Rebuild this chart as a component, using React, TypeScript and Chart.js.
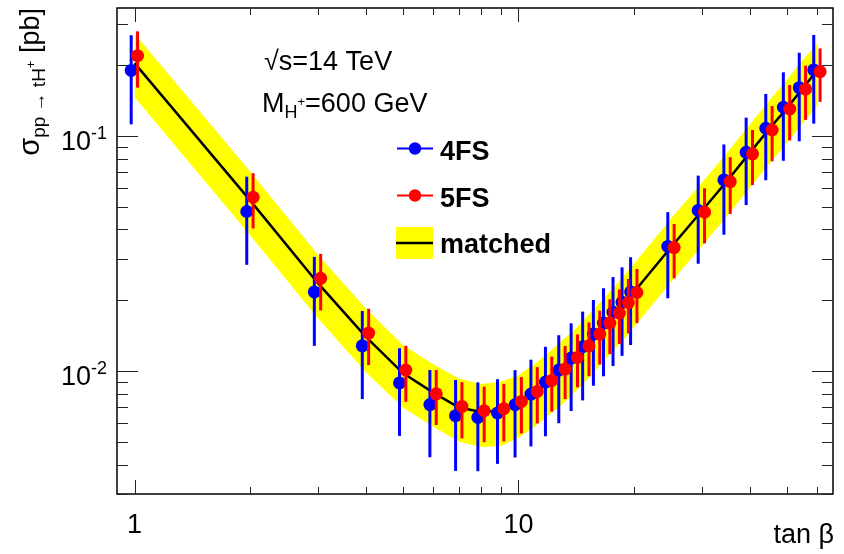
import React, { useEffect, useRef } from "react";
import { Chart, registerables } from "chart.js";

Chart.register(...registerables);

// ---------------- data ----------------
const tanBeta = [1, 2, 3, 4, 5, 6, 7, 8, 9, 10, 11, 12, 13, 14, 15, 16, 17, 18, 19, 20, 25, 30, 35, 40, 45, 50, 55, 60];

const sigma4FS = [0.190, 0.0477, 0.0217, 0.0128, 0.0089, 0.0072, 0.00646, 0.00635, 0.00663, 0.00719, 0.00798, 0.00898, 0.0101, 0.01136, 0.0127, 0.01436, 0.0160, 0.0178, 0.0196, 0.0217, 0.0339, 0.0482, 0.0650, 0.0852, 0.1078, 0.1324, 0.1604, 0.1908];
const err4FS = [0.078, 0.0194, 0.0089, 0.0052, 0.0036, 0.0029, 0.0027, 0.0026, 0.0026, 0.0029, 0.0032, 0.0037, 0.0041, 0.0046, 0.0052, 0.0057, 0.0065, 0.0073, 0.0080, 0.0088, 0.0135, 0.0196, 0.0270, 0.0344, 0.0430, 0.0540, 0.0655, 0.0780];

const sigma5FS = [0.2195, 0.0549, 0.0248, 0.0145, 0.0101, 0.0080, 0.00707, 0.00678, 0.00692, 0.00743, 0.00819, 0.00912, 0.0102, 0.01142, 0.0128, 0.01436, 0.0160, 0.01764, 0.01956, 0.02158, 0.0335, 0.0474, 0.0639, 0.0839, 0.1060, 0.1302, 0.1580, 0.1876];
const err5FS = [0.059, 0.0145, 0.0067, 0.0039, 0.0027, 0.0021, 0.0019, 0.0018, 0.0019, 0.0020, 0.0022, 0.0024, 0.0026, 0.0029, 0.0033, 0.0037, 0.0042, 0.0046, 0.0051, 0.0056, 0.0087, 0.0125, 0.0173, 0.0221, 0.0280, 0.0345, 0.0410, 0.0480];

const sigmaMatched = [0.204, 0.0532, 0.0237, 0.0140, 0.0098, 0.0081, 0.0070, 0.0067, 0.0068, 0.0073, 0.0081, 0.0091, 0.0102, 0.0114, 0.0128, 0.0143, 0.0160, 0.0177, 0.0196, 0.0217, 0.0337, 0.0478, 0.0645, 0.0845, 0.107, 0.131, 0.159, 0.190];
const bandUpper = [0.272, 0.0705, 0.0313, 0.0185, 0.0129, 0.0107, 0.0093, 0.0088, 0.0090, 0.0096, 0.0107, 0.0120, 0.0135, 0.0150, 0.0169, 0.0189, 0.0211, 0.0234, 0.0259, 0.0286, 0.0445, 0.0631, 0.0851, 0.1115, 0.141, 0.173, 0.210, 0.247];
const bandLower = [0.146, 0.0378, 0.0168, 0.0099, 0.0070, 0.0058, 0.0050, 0.00475, 0.0048, 0.0052, 0.0058, 0.0065, 0.0072, 0.0081, 0.0091, 0.0102, 0.0114, 0.0126, 0.0139, 0.0154, 0.0239, 0.0339, 0.0458, 0.0600, 0.0760, 0.0930, 0.1130, 0.1340];

const xMajorTicks = [1, 10];
const xMinorTicks = [2, 3, 4, 5, 6, 7, 8, 9, 20, 30, 40, 50, 60];
const yMajorTicks = [0.01, 0.1];
const yMinorTicks = [0.003, 0.004, 0.005, 0.006, 0.007, 0.008, 0.009, 0.02, 0.03, 0.04, 0.05, 0.06, 0.07, 0.08, 0.09, 0.2, 0.3];
const xTickLabelValues = [1, 10];
const xTickLabelTexts = ["1", "10"];
const yTickLabelValues = [0.1, 0.01];
const yTickLabelExps = ["-1", "-2"];

// ---------------- style ----------------
const FONT = '"Liberation Sans", Arial, Helvetica, sans-serif';
const SHIFT_4FS = 0.98;
const SHIFT_5FS = 1.018;

type Seg = { t: string; size: number; dy?: number; bold?: boolean };

function drawRich(ctx: CanvasRenderingContext2D, segs: Seg[], x: number, y: number, align: "left" | "right" | "center") {
  ctx.textAlign = "left";
  ctx.textBaseline = "alphabetic";
  const widths = segs.map((s) => {
    ctx.font = `${s.bold ? "bold " : ""}${s.size}px ${FONT}`;
    return ctx.measureText(s.t).width;
  });
  const total = widths.reduce((a, b) => a + b, 0);
  let cx = align === "left" ? x : align === "right" ? x - total : x - total / 2;
  segs.forEach((s, i) => {
    ctx.font = `${s.bold ? "bold " : ""}${s.size}px ${FONT}`;
    ctx.fillText(s.t, cx, y + (s.dy || 0));
    cx += widths[i];
  });
}

const decorPlugin = {
  id: "decor",
  beforeDatasetDraw(chart: any, args: any) {
    const ds = chart.data.datasets[args.index];
    if (!ds.errors) return;
    const ctx: CanvasRenderingContext2D = chart.ctx;
    const ys = chart.scales.y;
    const ca = chart.chartArea;
    ctx.save();
    ctx.beginPath();
    ctx.rect(ca.left, ca.top, ca.right - ca.left, ca.bottom - ca.top);
    ctx.clip();
    ctx.strokeStyle = ds.errColor;
    ctx.lineWidth = 3;
    args.meta.data.forEach((el: any, i: number) => {
      const v = ds.data[i].y;
      const e = ds.errors[i];
      const y1 = ys.getPixelForValue(v + e);
      const y2 = ys.getPixelForValue(Math.max(v - e, 1e-6));
      ctx.beginPath();
      ctx.moveTo(el.x, y1);
      ctx.lineTo(el.x, y2);
      ctx.stroke();
    });
    ctx.restore();
  },
  afterDraw(chart: any) {
    const ctx: CanvasRenderingContext2D = chart.ctx;
    const ca = chart.chartArea;
    const xs = chart.scales.x;
    const ys = chart.scales.y;
    ctx.save();
    // frame
    ctx.strokeStyle = "#000";
    ctx.lineWidth = 1.5;
    ctx.strokeRect(ca.left, ca.top, ca.right - ca.left, ca.bottom - ca.top);
    // ticks
    ctx.lineWidth = 1;
    ctx.strokeStyle = "#222";
    const seg = (x1: number, y1: number, x2: number, y2: number) => {
      ctx.beginPath();
      ctx.moveTo(x1, y1);
      ctx.lineTo(x2, y2);
      ctx.stroke();
    };
    const xt = (vals: number[], len: number) => {
      vals.forEach((v) => {
        const px = Math.round(xs.getPixelForValue(v)) + 0.5;
        seg(px, ca.bottom, px, ca.bottom - len);
        seg(px, ca.top, px, ca.top + len);
      });
    };
    const yt = (vals: number[], len: number) => {
      vals.forEach((v) => {
        const py = Math.round(ys.getPixelForValue(v)) + 0.5;
        seg(ca.left, py, ca.left + len, py);
        seg(ca.right, py, ca.right - len, py);
      });
    };
    xt(xMinorTicks, 7);
    xt(xMajorTicks, 14);
    yt(yMinorTicks, 11);
    yt(yMajorTicks, 21);

    ctx.fillStyle = "#000";
    // x tick labels
    xTickLabelValues.forEach((v, i) => {
      drawRich(ctx, [{ t: xTickLabelTexts[i], size: 27 }], xs.getPixelForValue(v), ca.bottom + 39, "center");
    });
    // y tick labels
    yTickLabelValues.forEach((v, i) => {
      const py = ys.getPixelForValue(v);
      drawRich(
        ctx,
        [
          { t: "10", size: 27 },
          { t: yTickLabelExps[i], size: 18, dy: -11 },
        ],
        ca.left - 10,
        py + 14,
        "right"
      );
    });
    // x title
    drawRich(ctx, [{ t: "tan β", size: 27 }], ca.right + 1, 543, "right");
    // y title (rotated)
    ctx.save();
    ctx.translate(39, 8);
    ctx.rotate(-Math.PI / 2);
    drawRich(
      ctx,
      [
        { t: "σ", size: 29 },
        { t: "pp → tH", size: 19, dy: 6 },
        { t: "+", size: 13, dy: -4 },
        { t: " [pb]", size: 27 },
      ],
      0,
      0,
      "right"
    );
    ctx.restore();

    // annotations
    drawRich(ctx, [{ t: "√s=14 TeV", size: 27 }], 264, 70, "left");
    drawRich(
      ctx,
      [
        { t: "M", size: 27 },
        { t: "H", size: 18, dy: 6 },
        { t: "+", size: 13, dy: -6 },
        { t: "=600 GeV", size: 27 },
      ],
      262,
      112,
      "left"
    );

    // legend
    const lx1 = 397, lx2 = 433, tx = 440;
    const legendPoint = (y: number, color: string) => {
      ctx.strokeStyle = color;
      ctx.lineWidth = 2;
      seg(lx1, y, lx2, y);
      ctx.fillStyle = color;
      ctx.beginPath();
      ctx.arc((lx1 + lx2) / 2, y, 6.2, 0, Math.PI * 2);
      ctx.fill();
    };
    legendPoint(148.5, "#0000ff");
    legendPoint(195.5, "#ff0000");
    ctx.fillStyle = "#ffff00";
    ctx.fillRect(396, 227, 37, 32);
    ctx.strokeStyle = "#000";
    ctx.lineWidth = 2.5;
    seg(396, 243, 433, 243);
    ctx.fillStyle = "#000";
    drawRich(ctx, [{ t: "4FS", size: 27, bold: true }], tx, 160, "left");
    drawRich(ctx, [{ t: "5FS", size: 27, bold: true }], tx, 207, "left");
    drawRich(ctx, [{ t: "matched", size: 27, bold: true }], tx, 253, "left");
    ctx.restore();
  },
};

export default function App() {
  const ref = useRef<HTMLCanvasElement | null>(null);
  useEffect(() => {
    if (!ref.current) return;
    const pts = (xs: number[], ys: number[], k = 1) => xs.map((x, i) => ({ x: x * k, y: ys[i] }));
    const chart = new Chart(ref.current, {
      type: "line",
      data: {
        datasets: [
          {
            label: "5FS",
            data: pts(tanBeta, sigma5FS, SHIFT_5FS),
            showLine: false,
            pointRadius: 6.5,
            pointBackgroundColor: "#ff0000",
            pointBorderColor: "#ff0000",
            pointBorderWidth: 0,
            errors: err5FS,
            errColor: "#ff0000",
          } as any,
          {
            label: "4FS",
            data: pts(tanBeta, sigma4FS, SHIFT_4FS),
            showLine: false,
            pointRadius: 6.5,
            pointBackgroundColor: "#0000ff",
            pointBorderColor: "#0000ff",
            pointBorderWidth: 0,
            errors: err4FS,
            errColor: "#0000ff",
          } as any,
          {
            label: "matched",
            data: pts(tanBeta, sigmaMatched),
            borderColor: "#000000",
            borderWidth: 2.5,
            pointRadius: 0,
            fill: false,
            tension: 0,
          },
          {
            label: "band up",
            data: pts(tanBeta, bandUpper),
            borderColor: "rgba(0,0,0,0)",
            borderWidth: 1,
            pointRadius: 0,
            backgroundColor: "#ffff00",
            fill: "+1",
          },
          {
            label: "band low",
            data: pts(tanBeta, bandLower),
            borderColor: "rgba(0,0,0,0)",
            borderWidth: 1,
            pointRadius: 0,
            fill: false,
          },
        ],
      },
      options: {
        responsive: false,
        maintainAspectRatio: false,
        animation: false,
        devicePixelRatio: 1,
        layout: { padding: { left: 117, right: 11, top: 8, bottom: 60 } },
        plugins: { legend: { display: false }, tooltip: { enabled: false } },
        scales: {
          x: { type: "logarithmic", min: 0.9, max: 66, display: false },
          y: { type: "logarithmic", min: 0.003, max: 0.35, display: false },
        },
      },
      plugins: [decorPlugin],
    });
    return () => chart.destroy();
  }, []);
  return (
    <div style={{ position: "fixed", left: 0, top: 0, width: 844, height: 554, background: "#fff" }}>
      <canvas ref={ref} width={844} height={554} style={{ display: "block" }} />
    </div>
  );
}
